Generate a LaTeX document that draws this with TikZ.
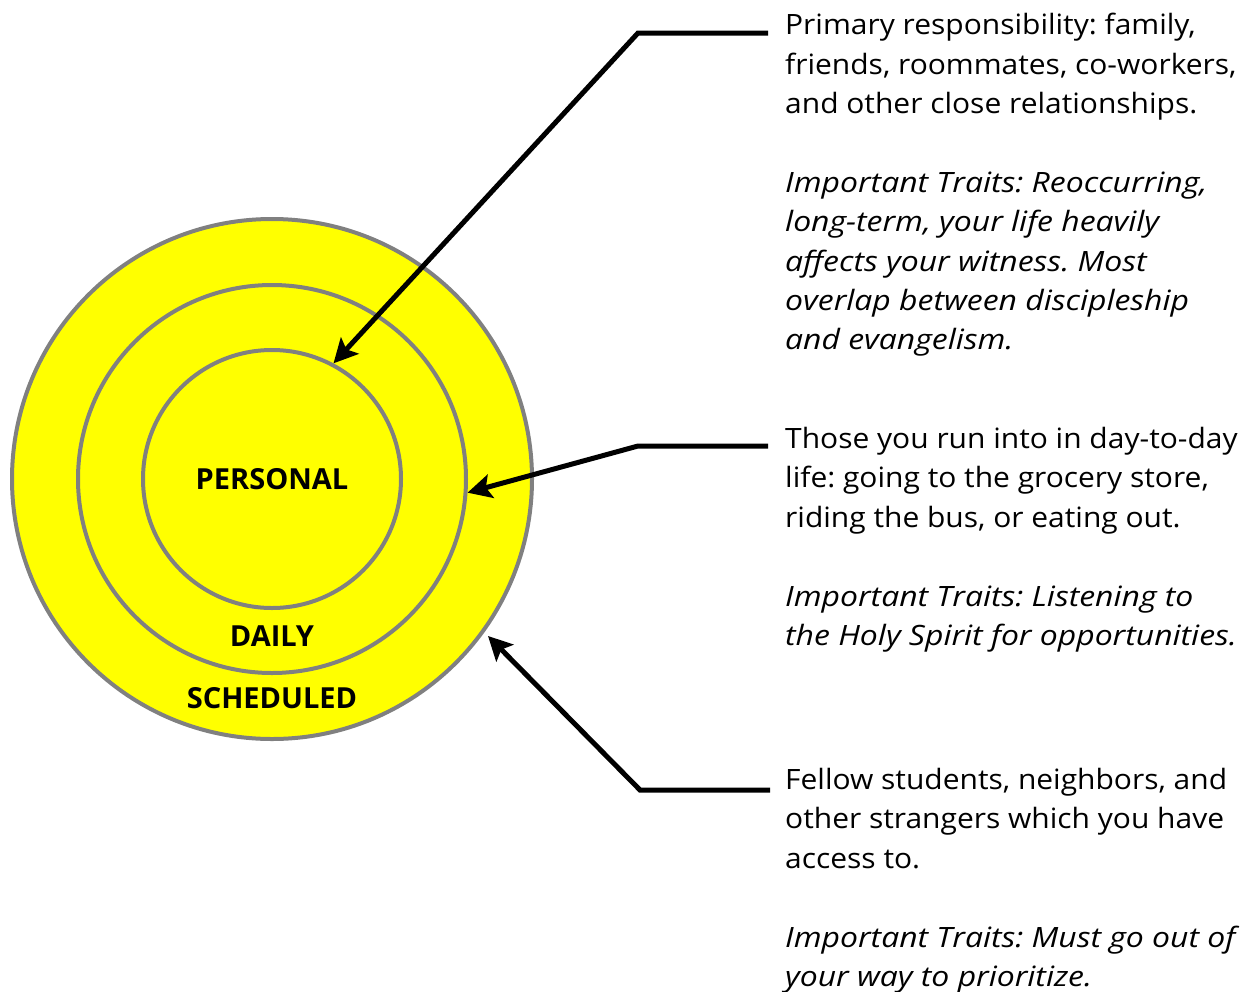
\documentclass[tikz,border=0pt]{standalone}
\usepackage{fontspec}
\setmainfont[FakeStretch=1.07, ItalicFeatures={FakeStretch=1.14}]{Open Sans}
\newfontfamily\ringfont{Open Sans}
\usetikzlibrary{arrows.meta}
\definecolor{ringyellow}{RGB}{255,255,0}
\definecolor{ringgray}{RGB}{128,128,128}
\frenchspacing

\tikzset{
	ring/.style={circle, draw=ringgray, fill=ringyellow, line width=4pt, inner sep=0pt},
	ringlabel/.style={font=\ringfont\fontsize{29}{30}\selectfont\bfseries},
	pointer/.style={line width=5pt, -{Stealth[length=24pt,width=24pt,inset=5pt]}},
	blurb/.style={anchor=north west, align=left, inner sep=0pt, font=\fontsize{28}{39.4}\selectfont},
}

\begin{document}
\begin{tikzpicture}[x=1pt,y=-1pt]
	\useasboundingbox (0,0) rectangle (1256,991);
	% the three rings
	\node[ring, minimum size=520pt] (sched) at (272,479) {};
	\node[ring, minimum size=388pt] (daily) at (272,479) {};
	\node[ring, minimum size=258pt] (pers) at (272,479) {};
	\node[ringlabel] (perslab) at (272,479) {PERSONAL};
	\node[ringlabel] (dailylab) at (272,636) {DAILY};
	\node[ringlabel] (schedlab) at (272,698) {SCHEDULED};
	% descriptions
	\node[blurb] (t1) at (785,13) {Primary responsibility: family,\\
		friends, roommates, co-workers,\\
		and other close relationships.\\[39.4pt]
		\itshape Important Traits: Reoccurring,\\
		\itshape long-term, your life heavily\\
		\itshape affects your witness. Most\\
		\itshape overlap between discipleship\\
		\itshape and evangelism.};
	\node[blurb] (t2) at (785,427) {Those you run into in day-to-day\\
		life: going to the grocery store,\\
		riding the bus, or eating out.\\[39.4pt]
		\itshape Important Traits: Listening to\\
		\itshape the Holy Spirit for opportunities.};
	\node[blurb] (t3) at (785,768) {Fellow students, neighbors, and\\
		other strangers which you have\\
		access to.\\[39.4pt]
		\itshape Important Traits: Must go out of\\
		\itshape your way to prioritize.};
	% pointers
	\coordinate (s1) at (768,33);
	\coordinate (k1) at (638,33);
	\coordinate (s2) at (768,446);
	\coordinate (k2) at (638,446);
	\coordinate (s3) at (770,790);
	\coordinate (k3) at (640,790);
	\draw[pointer] (s1) -- (k1) -- (pers.62);
	\draw[pointer] (s2) -- (k2) -- (daily.-4.5);
	\draw[pointer] (s3) -- (k3) -- ([shift={(-36.5:5pt)}]sched.-36.5);
\end{tikzpicture}
\end{document}
